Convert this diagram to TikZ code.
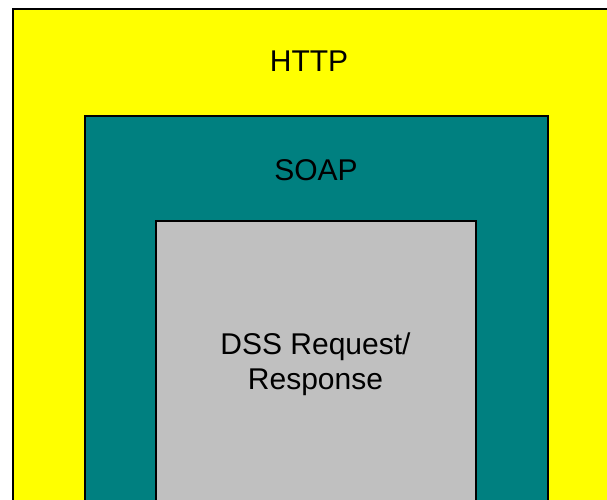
\documentclass[tikz,border=0pt]{standalone}
\usepackage{fontspec}
\setmainfont{Liberation Sans}
\definecolor{httpyellow}{HTML}{FFFF00}
\definecolor{soapteal}{HTML}{008080}
\definecolor{dssgray}{HTML}{C0C0C0}
\begin{document}
\begin{tikzpicture}[x=1pt,y=-1pt,
  layer/.style={draw=black,line width=2pt},
  lbl/.style={font=\fontsize{30}{35}\selectfont,anchor=base,inner sep=0pt,align=center}]
\clip (0,0) rectangle (607,500);
\useasboundingbox (0,0) rectangle (607,500);
\fill[white] (0,0) rectangle (607,500);
\path[layer,fill=httpyellow] (12.5,9.5) rectangle (640,540);
\path[layer,fill=soapteal] (84.5,116) rectangle (547.5,540);
\path[layer,fill=dssgray] (156,221) rectangle (475.5,540);
\node[lbl] (http) at (309,71.5) {HTTP};
\node[lbl] (soap) at (316,180.5) {SOAP};
\node[lbl] (dss) at (315.5,389) {DSS Request/\\Response};
\end{tikzpicture}
\end{document}
